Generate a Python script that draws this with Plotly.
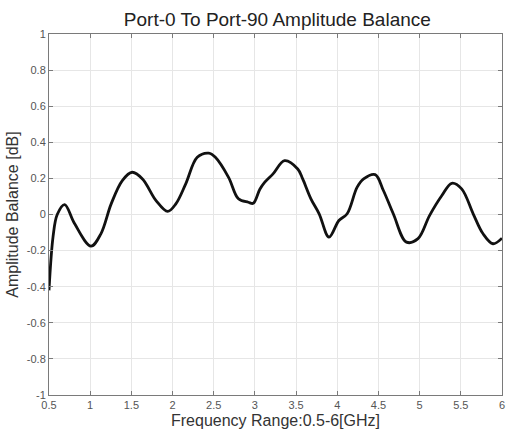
import plotly.graph_objects as go

freq_ghz = [0.50, 0.55, 0.60, 0.69, 0.81, 1.01, 1.13, 1.255, 1.39, 1.51, 1.635, 1.80, 1.94,
            2.04, 2.16, 2.30, 2.44, 2.52, 2.68, 2.80, 2.92, 2.98, 3.06, 3.12, 3.22, 3.36,
            3.52, 3.58, 3.68, 3.78, 3.90, 4.02, 4.12, 4.24, 4.32, 4.46, 4.56, 4.68, 4.84,
            4.98, 5.12, 5.27, 5.39, 5.51, 5.65, 5.77, 5.89, 6.00]
balance_db = [-0.42, -0.12, 0.0, 0.055, -0.05, -0.175, -0.107, 0.059, 0.188, 0.234, 0.197, 0.077, 0.017,
              0.059, 0.17, 0.317, 0.34, 0.317, 0.206, 0.087, 0.068, 0.062, 0.14, 0.179, 0.225, 0.298,
              0.252, 0.197, 0.087, 0.004, -0.125, -0.033, 0.004, 0.15, 0.197, 0.221, 0.133, 0.004, -0.153,
              -0.134, -0.006, 0.105, 0.173, 0.142, 0.004, -0.107, -0.162, -0.131]

x_ticks = [0.5, 1, 1.5, 2, 2.5, 3, 3.5, 4, 4.5, 5, 5.5, 6]
x_tick_labels = ["0.5", "1", "1.5", "2", "2.5", "3", "3.5", "4", "4.5", "5", "5.5", "6"]
y_ticks = [-1, -0.8, -0.6, -0.4, -0.2, 0, 0.2, 0.4, 0.6, 0.8, 1]
y_tick_labels = ["-1", "-0.8", "-0.6", "-0.4", "-0.2", "0", "0.2", "0.4", "0.6", "0.8", "1"]

FONT = "Liberation Sans, Arial, sans-serif"

fig = go.Figure()
fig.add_trace(go.Scatter(
    x=freq_ghz, y=balance_db, mode="lines",
    line=dict(color="#111111", width=2.8, shape="spline", smoothing=1.0),
    showlegend=False,
))

axis_common = dict(
    showgrid=True, gridcolor="#e6e6e6", gridwidth=1,
    showline=True, linecolor="#7a7a7a", linewidth=1, mirror="ticks",
    ticks="inside", ticklen=4, tickcolor="#7a7a7a",
    tickfont=dict(family=FONT, size=11, color="#555555"),
    ticklabeloverflow="allow",
    zeroline=False,
)

fig.update_layout(
    width=508, height=436,
    margin=dict(l=49, r=3, t=34, b=41),
    paper_bgcolor="white", plot_bgcolor="white",
    title=dict(text="Port-0 To Port-90 Amplitude Balance", x=0.546, xanchor="center",
               y=0.955, yanchor="middle",
               font=dict(family=FONT, size=19, color="#222222")),
    xaxis=dict(range=[0.5, 6], tickvals=x_ticks, ticktext=x_tick_labels,
               title=dict(text="Frequency Range:0.5-6[GHz]", standoff=4,
                          font=dict(family=FONT, size=16, color="#333333")),
               **axis_common),
    yaxis=dict(range=[-1, 1], tickvals=y_ticks, ticktext=y_tick_labels,
               title=dict(text="Amplitude Balance [dB]", standoff=4,
                          font=dict(family=FONT, size=16, color="#333333")),
               **axis_common),
)

fig.write_html(
    "out.html",
    config={"displayModeBar": False},
    post_script="document.documentElement.style.overflow='hidden';"
                "document.body.style.margin='0';document.body.style.overflow='hidden';",
)
